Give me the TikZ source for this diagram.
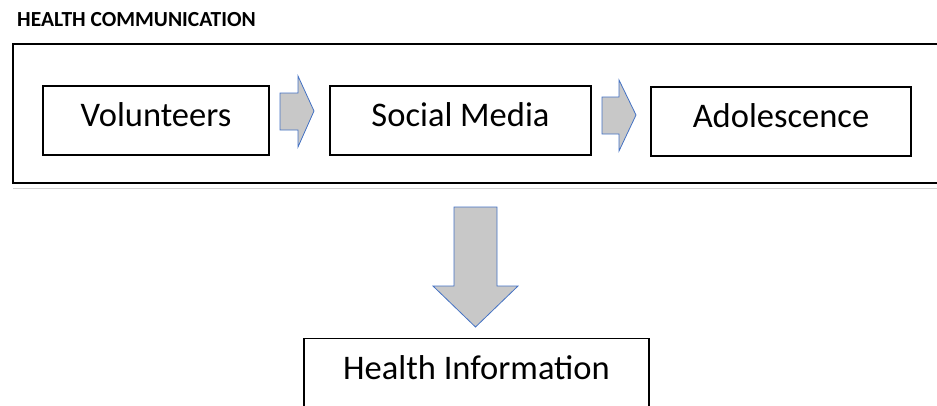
\documentclass[tikz,border=0pt]{standalone}
\usepackage{fontspec}
\setmainfont{Carlito}
\usepackage{tikz}
\usetikzlibrary{positioning}
\usetikzlibrary{calc}

\definecolor{arrowfill}{RGB}{200,200,200}
\definecolor{arrowline}{RGB}{68,114,196}

\begin{document}
\begin{tikzpicture}[x=1pt,y=-1pt]
\tikzset{stage/.style={rectangle, draw, line width=1.5pt, inner sep=0pt, minimum height=69pt, text height=22pt, text depth=11pt, font=\fontsize{34.5}{40}\selectfont}}
\tikzset{blockarrow/.style={fill=arrowfill, draw=arrowline, line width=0.8pt, line join=miter}}
\useasboundingbox (0,0) rectangle (937,405);
\clip (0,0) rectangle (937,405);
% title and frame
\node[anchor=base west, inner sep=0pt, font=\bfseries\fontsize{21.5}{25}\selectfont] (title) at (17,26) {HEALTH COMMUNICATION};
\draw[black!18, line width=1pt] (13,188) -- (937,188);
\draw[line width=1.6pt] (945,44) -- (13,44) -- (13,183) -- (945,183);
% stages
\node[stage, minimum width=226pt] (vol) at (156,120.5) {Volunteers};
\node[stage, minimum width=261pt] (soc) at (460.5,120.5) {Social Media};
\node[stage, minimum width=260pt] (ado) at (781,121.5) {Adolescence};
\node[stage, minimum width=345pt, minimum height=71pt] (info) at (476.5,374) {Health Information};
% block arrows
\draw[blockarrow] (280,93) -- (298,93) -- (298,76) -- (314,111) -- (298,147) -- (298,130) -- (280,130) -- cycle;
\draw[blockarrow] (602,97) -- (619,97) -- (619,80) -- (636,115) -- (619,151) -- (619,134) -- (602,134) -- cycle;
\draw[blockarrow] (454,207) -- (497,207) -- (497,286) -- (518,286) -- (475.5,327) -- (433,286) -- (454,286) -- cycle;
\end{tikzpicture}
\end{document}
